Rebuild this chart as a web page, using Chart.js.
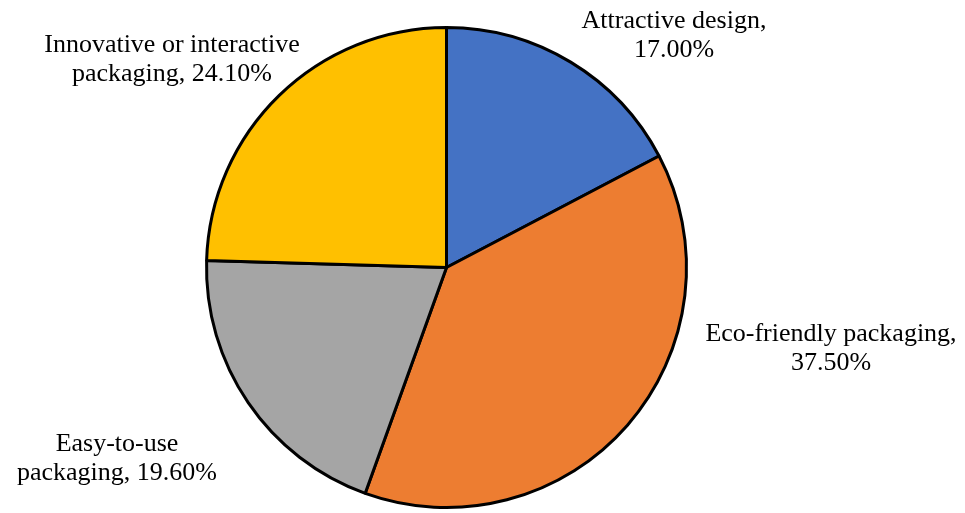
<!DOCTYPE html>
<html>
<head>
<meta charset="utf-8">
<script src="https://cdn.jsdelivr.net/npm/chart.js@4"></script>
<style>
  html, body { margin: 0; padding: 0; background: #fff; }
  #wrap { width: 965px; height: 513px; }
</style>
</head>
<body>
<div id="wrap"><canvas id="pieChart" width="965" height="513"></canvas></div>
<script>
// categories and values (%)
const categories = ["Attractive design", "Eco-friendly packaging", "Easy-to-use packaging", "Innovative or interactive packaging"];
const shares = [17.00, 37.50, 19.60, 24.10];
const sliceColors = ["#4472C4", "#ED7D31", "#A5A5A5", "#FFC000"];

// label text lines, split the way the picture shows them
const labelLines = [
    ["Attractive design,", "17.00%"],
    ["Eco-friendly packaging,", "37.50%"],
    ["Easy-to-use", "packaging, 19.60%"],
    ["Innovative or interactive", "packaging, 24.10%"]
];
// label centres (layout only)
const labelPos = [[674, 21], [831, 334], [117, 444], [172, 45]];

const outsideLabels = {
    id: "outsideLabels",
    afterDraw(chart) {
        const ctx = chart.ctx;
        ctx.save();
        ctx.font = "26px 'Liberation Serif', 'Times New Roman', serif";
        ctx.fillStyle = "#000";
        ctx.textAlign = "center";
        ctx.textBaseline = "middle";
        labelLines.forEach((lines, i) => {
            lines.forEach((t, j) => {
                ctx.fillText(t, labelPos[i][0], labelPos[i][1] + j * 29);
            });
        });
        ctx.restore();
    }
};

new Chart(document.getElementById("pieChart").getContext("2d"), {
    type: "pie",
    data: {
        labels: categories,
        datasets: [{
            data: shares,
            backgroundColor: sliceColors,
            borderColor: "#000",
            borderWidth: 3
        }]
    },
    options: {
        responsive: false,
        animation: false,
        layout: { padding: { left: 205, right: 277, top: 26, bottom: 4 } },
        plugins: {
            legend: { display: false },
            tooltip: { enabled: false }
        }
    },
    plugins: [outsideLabels]
});
</script>
</body>
</html>
